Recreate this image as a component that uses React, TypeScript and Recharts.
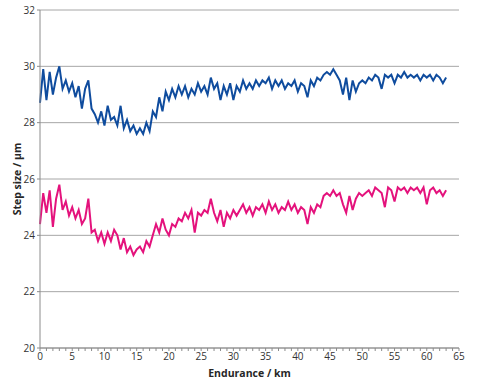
import { LineChart, Line, XAxis, YAxis, CartesianGrid, Label } from 'recharts';

// endurance (km), sampled every 0.5 km
const distance = [
  0, 0.5, 1, 1.5, 2, 2.5, 3, 3.5, 4, 4.5, 5, 5.5, 6, 6.5, 7, 7.5, 8, 8.5, 9, 9.5,
  10, 10.5, 11, 11.5, 12, 12.5, 13, 13.5, 14, 14.5, 15, 15.5, 16, 16.5, 17, 17.5, 18, 18.5, 19, 19.5,
  20, 20.5, 21, 21.5, 22, 22.5, 23, 23.5, 24, 24.5, 25, 25.5, 26, 26.5, 27, 27.5, 28, 28.5, 29, 29.5,
  30, 30.5, 31, 31.5, 32, 32.5, 33, 33.5, 34, 34.5, 35, 35.5, 36, 36.5, 37, 37.5, 38, 38.5, 39, 39.5,
  40, 40.5, 41, 41.5, 42, 42.5, 43, 43.5, 44, 44.5, 45, 45.5, 46, 46.5, 47, 47.5, 48, 48.5, 49, 49.5,
  50, 50.5, 51, 51.5, 52, 52.5, 53, 53.5, 54, 54.5, 55, 55.5, 56, 56.5, 57, 57.5, 58, 58.5, 59, 59.5,
  60, 60.5, 61, 61.5, 62, 62.5, 63,
];

const upperStep = [
  28.7, 29.9, 28.8, 29.8, 29.0, 29.6, 30.0, 29.2, 29.5, 29.1, 29.4, 28.9, 29.3, 28.5, 29.2, 29.5, 28.5, 28.3, 28.0, 28.4,
  27.9, 28.6, 28.1, 28.2, 27.9, 28.6, 27.8, 28.1, 27.7, 27.9, 27.6, 27.8, 27.6, 28.0, 27.7, 28.4, 28.2, 28.9, 28.4, 29.1,
  28.8, 29.2, 28.9, 29.3, 29.0, 29.3, 28.9, 29.2, 29.0, 29.4, 29.1, 29.3, 29.0, 29.6, 29.2, 29.4, 28.8, 29.3, 29.0, 29.4,
  28.8, 29.3, 29.1, 29.5, 29.2, 29.4, 29.2, 29.5, 29.3, 29.5, 29.4, 29.6, 29.2, 29.5, 29.3, 29.5, 29.2, 29.4, 29.3, 29.5,
  29.1, 29.4, 29.3, 28.9, 29.5, 29.3, 29.6, 29.5, 29.7, 29.8, 29.7, 29.9, 29.7, 29.5, 29.0, 29.6, 28.8, 29.5, 29.1, 29.4,
  29.5, 29.4, 29.6, 29.5, 29.7, 29.6, 29.2, 29.7, 29.6, 29.7, 29.4, 29.7, 29.6, 29.8, 29.6, 29.7, 29.6, 29.7, 29.5, 29.7,
  29.6, 29.7, 29.5, 29.7, 29.6, 29.4, 29.6,
];

const lowerStep = [
  24.4, 25.5, 24.8, 25.6, 24.3, 25.3, 25.8, 24.9, 25.2, 24.7, 25.0, 24.6, 24.9, 24.4, 24.6, 25.3, 24.1, 24.2, 23.8, 24.1,
  23.7, 24.1, 23.8, 24.2, 24.0, 23.5, 23.9, 23.4, 23.6, 23.3, 23.5, 23.6, 23.4, 23.8, 23.6, 24.0, 24.4, 24.1, 24.6, 24.2,
  24.0, 24.4, 24.3, 24.6, 24.5, 24.8, 24.6, 24.9, 24.1, 24.8, 24.7, 24.9, 24.8, 25.3, 24.8, 24.5, 24.9, 24.3, 24.8, 24.6,
  24.9, 24.7, 24.9, 25.1, 24.8, 25.0, 24.7, 25.0, 24.9, 25.1, 24.8, 25.2, 24.9, 25.1, 24.8, 25.0, 24.9, 25.2, 24.9, 25.1,
  24.8, 25.0, 24.9, 24.4, 25.0, 24.8, 25.1, 25.0, 25.4, 25.5, 25.4, 25.6, 25.4, 25.5, 25.1, 24.8, 25.4, 24.9, 25.3, 25.5,
  25.4, 25.5, 25.6, 25.4, 25.7, 25.6, 25.5, 25.0, 25.7, 25.6, 25.2, 25.7, 25.6, 25.7, 25.5, 25.7, 25.6, 25.7, 25.5, 25.7,
  25.1, 25.6, 25.7, 25.5, 25.6, 25.4, 25.6,
];

const xTicks = [
  0, 1, 2, 3, 4, 5, 6, 7, 8, 9, 10, 11, 12, 13, 14, 15, 16, 17, 18, 19, 20, 21, 22, 23, 24, 25, 26, 27, 28, 29, 30, 31, 32,
  33, 34, 35, 36, 37, 38, 39, 40, 41, 42, 43, 44, 45, 46, 47, 48, 49, 50, 51, 52, 53, 54, 55, 56, 57, 58, 59, 60, 61, 62, 63, 64, 65,
];
const yTicks = [20, 22, 24, 26, 28, 30, 32];

const data = distance.map((km, i) => ({ km, upper: upperStep[i], lower: lowerStep[i] }));

const FONT = '"Open Sans", "Liberation Sans", sans-serif';

export default function App() {
  return (
    <div style={{ position: 'absolute', left: 0, top: 0, width: 484, height: 390, background: '#fff' }}>
      <LineChart width={484} height={390} data={data} margin={{ top: 10, right: 25, left: 0, bottom: 0 }}>
        <CartesianGrid vertical={false} stroke="#a6a6a6" strokeWidth={1} />
        <XAxis
          dataKey="km"
          type="number"
          domain={[0, 65]}
          ticks={xTicks}
          interval={0}
          tickFormatter={(v: number) => (v % 5 === 0 ? String(v) : '')}
          stroke="#8c8c8c"
          tickSize={3}
          tick={{ fill: '#333', fontSize: 10, fontFamily: FONT }}
          height={42}
        >
          <Label
            value="Endurance / km"
            position="insideBottom"
            offset={13}
            style={{ fill: '#262626', fontSize: 10.5, fontWeight: 'bold', fontFamily: FONT }}
          />
        </XAxis>
        <YAxis
          type="number"
          domain={[20, 32]}
          ticks={yTicks}
          interval={0}
          width={40}
          stroke="#8c8c8c"
          tickSize={3}
          tick={{ fill: '#333', fontSize: 10, fontFamily: FONT }}
        >
          <Label
            value="Step size / µm"
            angle={-90}
            position="insideLeft"
            offset={17}
            style={{ textAnchor: 'middle', fill: '#262626', fontSize: 10.5, fontWeight: 'bold', fontFamily: FONT }}
          />
        </YAxis>
        <Line type="linear" dataKey="upper" stroke="#0f4c9e" strokeWidth={2} dot={false} isAnimationActive={false} />
        <Line type="linear" dataKey="lower" stroke="#e4127c" strokeWidth={2} dot={false} isAnimationActive={false} />
      </LineChart>
    </div>
  );
}
